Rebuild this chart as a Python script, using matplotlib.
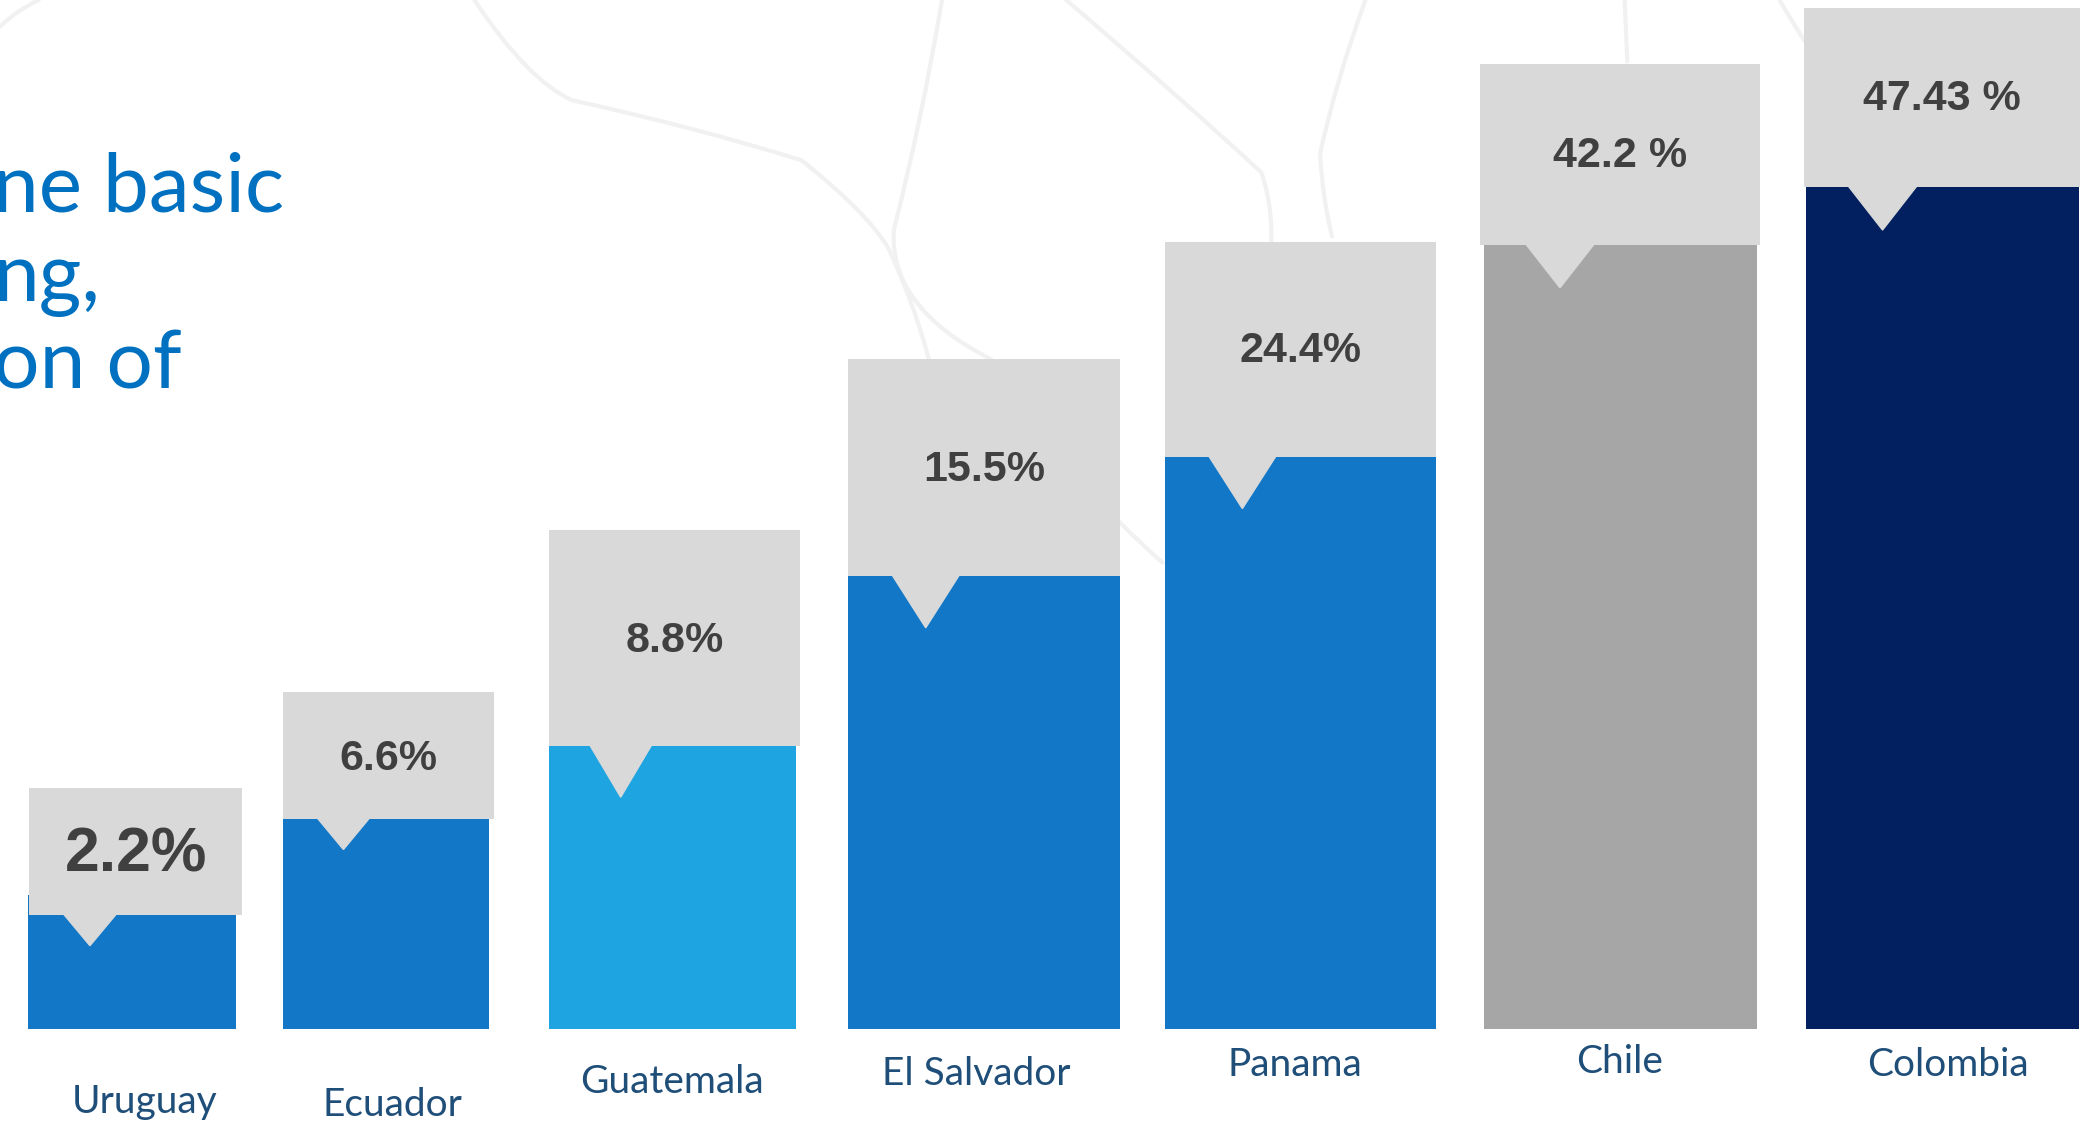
import matplotlib
matplotlib.use('Agg')
import matplotlib.pyplot as plt
from matplotlib.patches import Polygon, PathPatch
from matplotlib.path import Path

# data
countries = ['Uruguay', 'Ecuador', 'Guatemala', 'El Salvador', 'Panama', 'Chile', 'Colombia']
labels = ['2.2%', '6.6%', '8.8%', '15.5%', '24.4%', '42.2 %', '47.43 %']
bar_heights = [100, 230, 323, 380, 478, 640, 760]   # drawn heights (not to scale with values)
bar_colors = ['#1277C6', '#1277C6', '#1EA4E0', '#1277C6', '#1277C6', '#A6A6A6', '#02205F']

# layout, in units of the shrunk slide (1568 x 839, y up)
H = 839
baseline = H - 770
bar_left = [21, 212, 411, 635, 872, 1111, 1352]
bar_width = [156, 154, 185, 203, 203, 204, 204]
box_left = [22, 212, 411, 635, 872, 1108, 1350]
box_width = [159, 158, 188, 203, 203, 209, 207]
box_top = [590, 518, 397, 269, 181, 48, 6]
box_bottom = [685, 613, 558, 431, 342, 183, 140]
label_y = [640, 568, 480, 352, 263, 117, 74]
label_size = [45, 31, 31, 31, 31, 31, 31]
cat_x = [108, 294, 503, 731, 969, 1212, 1458]
cat_y = [825, 827, 810, 804, 797, 795, 797]

fig = plt.figure(figsize=(20.95, 11.21), dpi=100)
ax = fig.add_axes([0, 0, 1, 1])
ax.set_xlim(0, 1568)
ax.set_ylim(0, H)
ax.axis('off')

# faint decorative background curves
curves = [
    [(355, 0), (395, 60), (428, 75), (520, 95), (600, 120), (650, 160), (665, 186), (690, 240), (700, 290)],
    [(705, 0), (690, 90), (669, 172), (665, 230), (742, 269), (800, 360), (870, 421)],
    [(798, 0), (880, 70), (944, 129), (955, 160), (950, 200)],
    [(1022, 0), (1000, 60), (988, 115), (990, 150), (997, 177)],
    [(0, 20), (12, 8), (29, 0)],
    [(1216, 0), (1217, 25), (1218, 46)],
    [(1332, 0), (1342, 18), (1353, 34)],
]
for pts in curves:
    n = len(pts)
    verts = [(pts[0][0], H - pts[0][1])]
    codes = [Path.MOVETO]
    for i in range(1, n - 1, 2):
        verts += [(pts[i][0], H - pts[i][1]), (pts[i + 1][0], H - pts[i + 1][1])]
        codes += [Path.CURVE3, Path.CURVE3]
    if (n - 1) % 2:
        verts.append((pts[-1][0], H - pts[-1][1]))
        codes.append(Path.LINETO)
    ax.add_patch(PathPatch(Path(verts, codes), facecolor='none', edgecolor='#F1F1F1',
                           lw=3, capstyle='round', joinstyle='round', zorder=0))

# bars
ax.bar(bar_left, bar_heights, width=bar_width, bottom=baseline, align='edge',
       color=bar_colors, zorder=2)

# callout boxes with pointer
for i in range(len(countries)):
    top = H - box_top[i]
    bot = H - box_bottom[i]
    ax.bar(box_left[i], top - bot, width=box_width[i], bottom=bot, align='edge',
           color='#D9D9D9', zorder=3)
    cx = box_left[i] + 0.285 * box_width[i]
    hw = 0.125 * box_width[i]
    depth = 0.24 * (top - bot)
    ax.add_patch(Polygon([(cx - hw, bot + 1), (cx + hw, bot + 1), (cx, bot - depth)],
                         closed=True, color='#D9D9D9', zorder=3))
    ax.text(box_left[i] + box_width[i] / 2, H - label_y[i], labels[i], ha='center', va='center',
            fontsize=label_size[i], fontweight='bold', family='Liberation Sans',
            color='#404040', zorder=4)
    ax.text(cat_x[i], H - cat_y[i], countries[i], ha='center', va='center',
            fontsize=28, family='Lato', color='#1F4E79', zorder=4)

# cut-off slide heading on the left
for txt, yb in [('ne basic', 158), ('ng,', 225), ('on of', 291)]:
    ax.text(-5, H - yb, txt, ha='left', va='baseline', fontsize=59,
            family='Lato', color='#0070C0', zorder=4)

fig.savefig('out.png', dpi=100, facecolor='white')
